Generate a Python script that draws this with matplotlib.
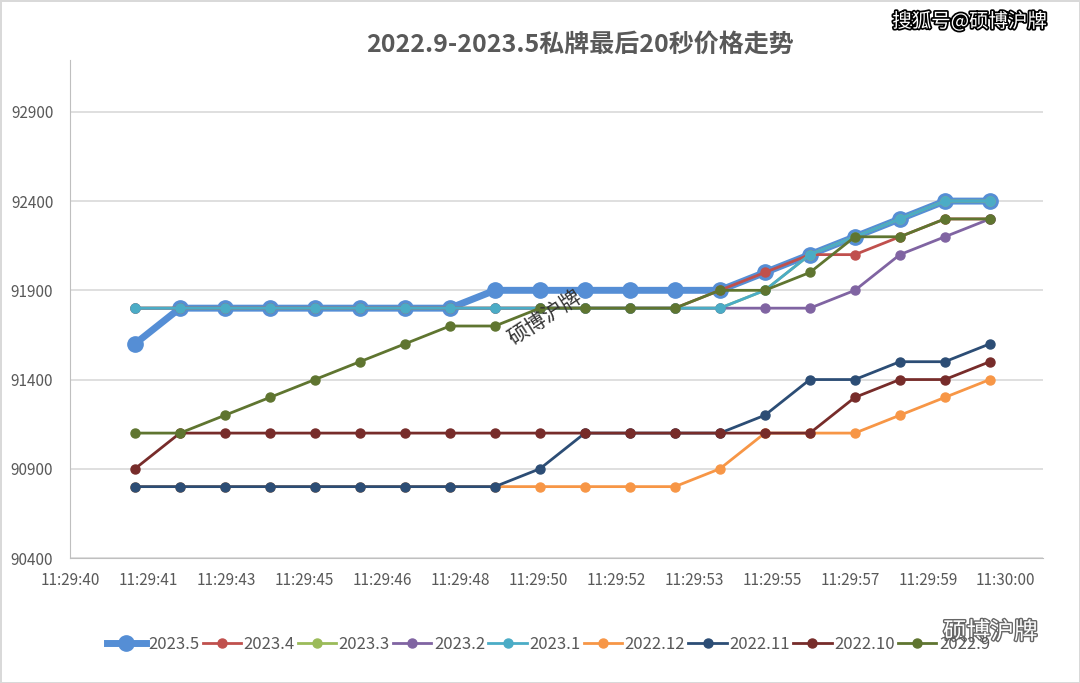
import numpy as np
import matplotlib
matplotlib.use("Agg")
import matplotlib.pyplot as plt
import matplotlib.patheffects as pe

plt.rcParams['font.family'] = ['Noto Sans CJK SC', 'DejaVu Sans']

# 20 samples, last 20 seconds of each month's auction
n_pts = 20
tick_labels = ['11:29:40', '11:29:41', '11:29:43', '11:29:45', '11:29:46', '11:29:48',
               '11:29:50', '11:29:52', '11:29:53', '11:29:55', '11:29:57', '11:29:59', '11:30:00']

p_2023_5 = [91600, 91800, 91800, 91800, 91800, 91800, 91800, 91800, 91900, 91900,
            91900, 91900, 91900, 91900, 92000, 92100, 92200, 92300, 92400, 92400]
p_2023_4 = [91800, 91800, 91800, 91800, 91800, 91800, 91800, 91800, 91800, 91800,
            91800, 91800, 91800, 91900, 92000, 92100, 92100, 92200, 92300, 92300]
p_2023_3 = [91800, 91800, 91800, 91800, 91800, 91800, 91800, 91800, 91800, 91800,
            91800, 91800, 91800, 91800, 91900, 92100, 92200, 92300, 92400, 92400]
p_2023_2 = [91800, 91800, 91800, 91800, 91800, 91800, 91800, 91800, 91800, 91800,
            91800, 91800, 91800, 91800, 91800, 91800, 91900, 92100, 92200, 92300]
p_2023_1 = [91800, 91800, 91800, 91800, 91800, 91800, 91800, 91800, 91800, 91800,
            91800, 91800, 91800, 91800, 91900, 92100, 92200, 92300, 92400, 92400]
p_2022_12 = [90800, 90800, 90800, 90800, 90800, 90800, 90800, 90800, 90800, 90800,
             90800, 90800, 90800, 90900, 91100, 91100, 91100, 91200, 91300, 91400]
p_2022_11 = [90800, 90800, 90800, 90800, 90800, 90800, 90800, 90800, 90800, 90900,
             91100, 91100, 91100, 91100, 91200, 91400, 91400, 91500, 91500, 91600]
p_2022_10 = [90900, 91100, 91100, 91100, 91100, 91100, 91100, 91100, 91100, 91100,
             91100, 91100, 91100, 91100, 91100, 91100, 91300, 91400, 91400, 91500]
p_2022_9 = [91100, 91100, 91200, 91300, 91400, 91500, 91600, 91700, 91700, 91800,
            91800, 91800, 91800, 91900, 91900, 92000, 92200, 92200, 92300, 92300]

names = ['2023.5', '2023.4', '2023.3', '2023.2', '2023.1', '2022.12', '2022.11', '2022.10', '2022.9']
series = [p_2023_5, p_2023_4, p_2023_3, p_2023_2, p_2023_1, p_2022_12, p_2022_11, p_2022_10, p_2022_9]
colors = ['#558ED5', '#C0504D', '#9BBB59', '#8064A2', '#4BACC6', '#F79646', '#2C4D75', '#772C2A', '#5F7530']

x = np.arange(n_pts)

fig = plt.figure(figsize=(10.8, 6.83), dpi=100)
fig.patch.set_edgecolor('#D9D9D9')
fig.patch.set_linewidth(2)
ax = fig.add_axes([0.0648, 0.183, 0.9009, 0.729])

for name, vals, col in zip(names, series, colors):
    if name == '2023.5':
        ax.plot(x, vals, color=col, lw=5, marker='o', ms=11, label=name, zorder=2)
    else:
        ax.plot(x, vals, color=col, lw=2, marker='o', ms=6.5, label=name, zorder=3)

ax.set_ylim(90400, 93190)
ax.set_yticks(np.arange(90400, 93000, 500))
ax.set_xlim(-1.444, 20.18)
ax.set_xticks(-1.444 + 1.7333 * np.arange(len(tick_labels)))
ax.set_xticklabels(tick_labels)
ax.grid(axis='y', color='#D9D9D9', lw=1.2)
ax.set_axisbelow(True)
for s in ['top', 'right']:
    ax.spines[s].set_visible(False)
ax.spines['left'].set_color('#BFBFBF')
ax.spines['bottom'].set_color('#BFBFBF')
ax.tick_params(length=0, labelsize=11, colors='#595959', pad=10)
ax.tick_params(axis='y', pad=12)

fig.text(0.537, 0.934, '2022.9-2023.5私牌最后20秒价格走势', ha='center', va='center',
         fontsize=18, fontweight='bold', color='#595959')

fig.legend(loc='center', bbox_to_anchor=(0.508, 0.057), ncol=9, frameon=False,
           fontsize=12, handlelength=2.3, columnspacing=0.2, handletextpad=0.15,
           labelcolor='#595959')

# watermarks
fig.text(0.898, 0.968, '搜狐号@硕博沪牌', ha='center', va='center', fontsize=14, color='white',
         path_effects=[pe.withStroke(linewidth=2.5, foreground='black')])
fig.text(0.505, 0.535, '硕博沪牌', ha='center', va='center', fontsize=15, rotation=33,
         color='#333333')
fig.text(0.917, 0.074, '硕博沪牌', ha='center', va='center', fontsize=17, color='white',
         path_effects=[pe.withStroke(linewidth=2, foreground='#666666')])

fig.savefig('out.png', dpi=100)
